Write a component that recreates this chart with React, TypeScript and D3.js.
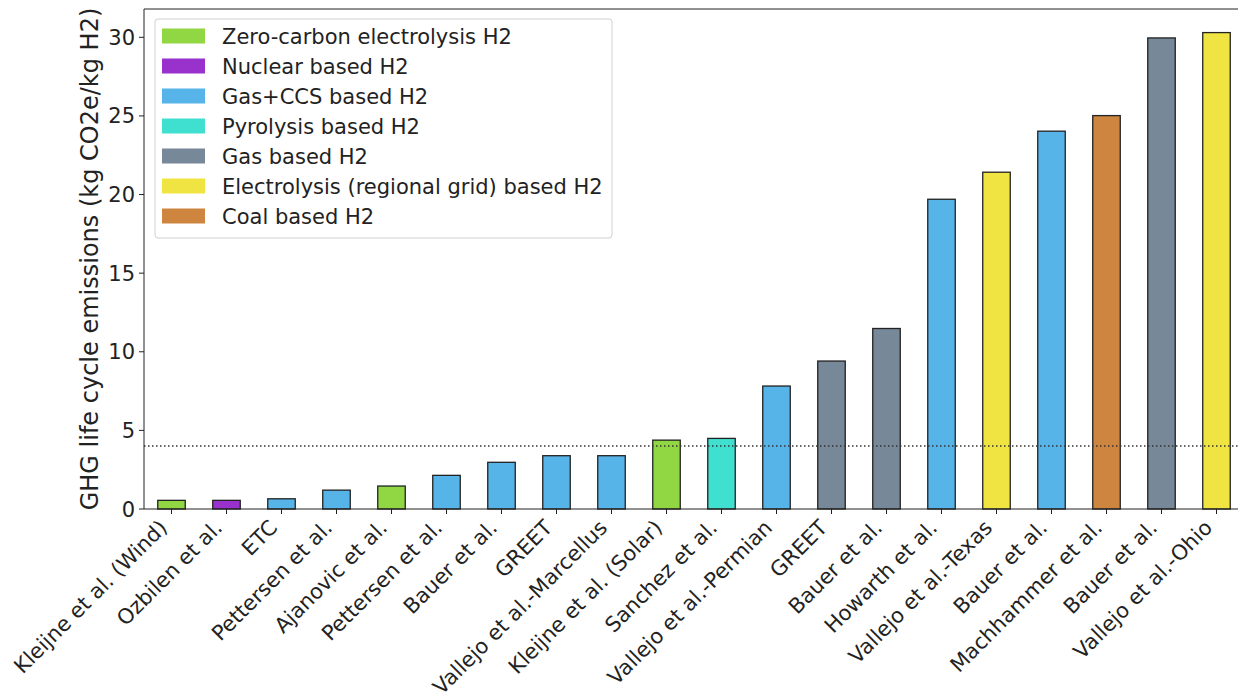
import React from "react";
import * as d3 from "d3";

const labels = [
  "Kleijne et al. (Wind)", "Ozbilen et al.", "ETC", "Pettersen et al.", "Ajanovic et al.",
  "Pettersen et al.", "Bauer et al.", "GREET", "Vallejo et al.-Marcellus", "Kleijne et al. (Solar)",
  "Sanchez et al.", "Vallejo et al.-Permian", "GREET", "Bauer et al.", "Howarth et al.",
  "Vallejo et al.-Texas", "Bauer et al.", "Machhammer et al.", "Bauer et al.", "Vallejo et al.-Ohio",
];
const values = [0.55, 0.55, 0.65, 1.2, 1.46, 2.14, 2.97, 3.39, 3.39, 4.38, 4.49, 7.82, 9.41, 11.48, 19.7, 21.42, 24.03, 25.02, 29.96, 30.3];
const barCategory = [0, 1, 2, 2, 0, 2, 2, 2, 2, 0, 3, 2, 4, 4, 2, 5, 2, 6, 4, 5];
const categories = [
  "Zero-carbon electrolysis H2", "Nuclear based H2", "Gas+CCS based H2", "Pyrolysis based H2",
  "Gas based H2", "Electrolysis (regional grid) based H2", "Coal based H2",
];
const colors = ["#91d643", "#9932cc", "#56b4e9", "#40e0d0", "#778899", "#f0e442", "#cd853f"];
const yTicks = [0, 5, 10, 15, 20, 25, 30];
const threshold = 4;
const yLabel = "GHG life cycle emissions (kg CO2e/kg H2)";

const W = 1238, H = 693;
const left = 144, top = 9, bottom = 509;
const step = 55;
const right = left + step * labels.length;
const font = "DejaVu Sans, sans-serif";
const fs = 21;

export default function App() {
  const x = d3.scaleBand<number>().domain(d3.range(labels.length)).range([left, right]).paddingInner(0.5).paddingOuter(0.25);
  const y = d3.scaleLinear().domain([0, 31.8]).range([bottom, top]);
  const bw = x.bandwidth();
  return (
    <svg width={W} height={H} style={{ position: "absolute", left: 0, top: 0, fontFamily: font }}>
      <rect width={W} height={H} fill="#fff" />
      {values.map((v, i) => (
        <rect key={i} x={x(i)} y={y(v)} width={bw} height={y(0) - y(v)}
          fill={colors[barCategory[i]]} stroke="#222" strokeWidth={1.3} />
      ))}
      <line x1={left} x2={right} y1={y(threshold)} y2={y(threshold)} stroke="#333" strokeWidth={1.5} strokeDasharray="1.5,2.5" />
      <line x1={left} x2={left} y1={top} y2={bottom} stroke="#222" strokeWidth={1} />
      <line x1={left} x2={right} y1={bottom} y2={bottom} stroke="#222" strokeWidth={1} />
      <line x1={left} x2={right} y1={top} y2={top} stroke="#222" strokeWidth={1} />
      <line x1={right} x2={right} y1={top} y2={bottom} stroke="#222" strokeWidth={1} />
      {yTicks.map(t => (
        <g key={t}>
          <line x1={left - 5} x2={left} y1={y(t)} y2={y(t)} stroke="#222" />
          <text x={left - 9} y={y(t)} dy="0.36em" textAnchor="end" fontSize={fs} fill="#222">{t}</text>
        </g>
      ))}
      {labels.map((l, i) => {
        const cx = x(i)! + bw / 2;
        return (
          <g key={i}>
            <line x1={cx} x2={cx} y1={bottom} y2={bottom + 5} stroke="#222" />
            <text transform={`translate(${cx - 3},${529}) rotate(-45)`} textAnchor="end" fontSize={fs} fill="#222">{l}</text>
          </g>
        );
      })}
      <text transform={`translate(98,${(top + bottom) / 2}) rotate(-90)`} textAnchor="middle" fontSize={24} fill="#222">{yLabel}</text>
      <rect x={155} y={19} width={457} height={219} rx={3} fill="#fff" fillOpacity={0.8} stroke="#d0d0d0" />
      {categories.map((c, i) => {
        const cy = 36 + i * 30;
        return (
          <g key={c}>
            <rect x={162} y={cy - 7.5} width={43} height={15} fill={colors[i]} />
            <text x={222} y={cy} dy="0.36em" fontSize={fs} fill="#222">{c}</text>
          </g>
        );
      })}
    </svg>
  );
}
